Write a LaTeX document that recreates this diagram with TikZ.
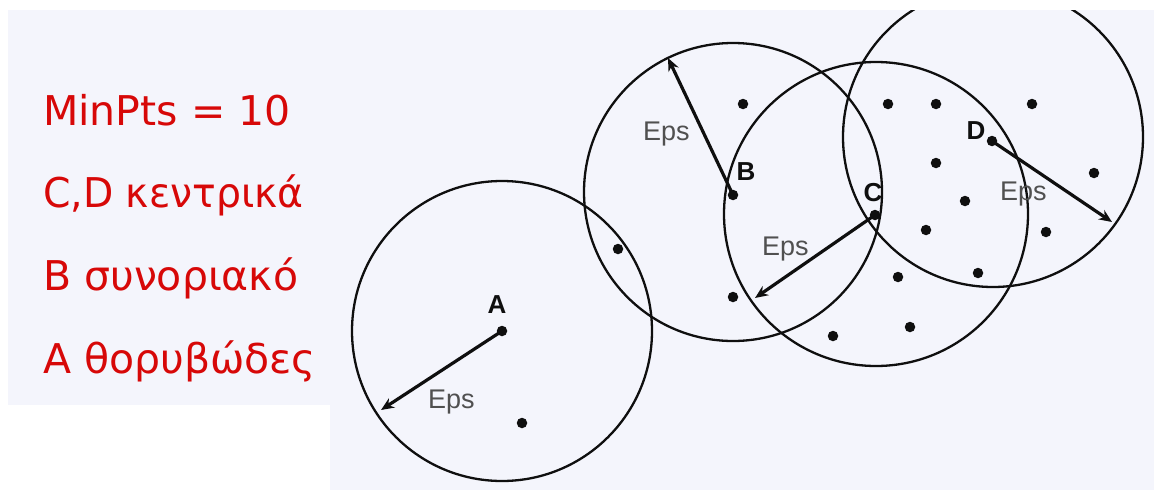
\documentclass[tikz,border=0pt]{standalone}
\usepackage{fontspec}
\setmainfont{Liberation Sans}
\newfontfamily\notefont{DejaVu Sans}
\usetikzlibrary{arrows.meta}
\definecolor{bgtint}{RGB}{244,245,252}
\definecolor{notered}{RGB}{215,8,8}
\definecolor{epsgray}{RGB}{80,80,80}
\definecolor{ink}{RGB}{15,15,15}
\tikzset{
  pt/.style={circle,fill=ink,inner sep=0pt,minimum size=10.5pt},
  ring/.style={draw=ink,line width=2.3pt},
  radius arrow/.style={draw=ink,line width=3.2pt,-{Stealth[length=13pt,width=11pt]}},
  ptlabel/.style={font=\fontsize{26}{26}\selectfont\bfseries,text=ink,inner sep=0pt},
  epslabel/.style={font=\fontsize{27}{27}\selectfont,text=epsgray,inner sep=0pt,anchor=base west},
  note/.style={font=\notefont\fontsize{41}{41}\selectfont,text=notered,inner sep=0pt,anchor=base west}
}
\begin{document}
\begin{tikzpicture}[x=1pt,y=-1pt]
\useasboundingbox (0,0) rectangle (1154,490);
% page background, tinted panel and the white strip at the lower left
\fill[white] (0,0) rectangle (1154,490);
\fill[bgtint] (8,10) rectangle (1154,490);
\fill[white] (0,405) rectangle (330,490);

% Eps-neighbourhoods
\begin{scope}
  \clip (8,10) rectangle (1154,490);
  \draw[ring] (502,331) circle[radius=150];
  \draw[ring] (733,192) circle[radius=149];
  \draw[ring] (876,214) circle[radius=152];
  \draw[ring] (993,137) circle[radius=150];
\end{scope}

% the four labelled points
\node[pt] (A) at (502,331) {};
\node[pt] (B) at (733,195) {};
\node[pt] (C) at (875,215) {};
\node[pt] (D) at (992,141) {};

% ends of the radius arrows
\coordinate (eA) at (381,410);
\coordinate (eB) at (668,58);
\coordinate (eC) at (755,298);
\coordinate (eD) at (1112,222);

\draw[radius arrow] (A.center) -- (eA);
\draw[radius arrow] (B.center) -- (eB);
\draw[radius arrow] (C.center) -- (eC);
\draw[radius arrow] (D.center) -- (eD);

\node[ptlabel] (lA) at (497,305) {A};
\node[ptlabel] (lB) at (746,172) {B};
\node[ptlabel] (lC) at (873,193) {C};
\node[ptlabel] (lD) at (976,131) {D};

\node[epslabel] (epsA) at (428,408) {Eps};
\node[epslabel] (epsB) at (643,140) {Eps};
\node[epslabel] (epsC) at (762,255) {Eps};
\node[epslabel] (epsD) at (1000,200) {Eps};

% other points
\node[pt] (p1) at (522,423) {};
\node[pt] (p2) at (743,104) {};
\node[pt] (p3) at (618,249) {};
\node[pt] (p4) at (733,297) {};
\node[pt] (p5) at (888,104) {};
\node[pt] (p6) at (936,104) {};
\node[pt] (p7) at (1032,104) {};
\node[pt] (p8) at (936,163) {};
\node[pt] (p9) at (965,201) {};
\node[pt] (p10) at (1094,173) {};
\node[pt] (p11) at (926,230) {};
\node[pt] (p12) at (1046,232) {};
\node[pt] (p13) at (898,277) {};
\node[pt] (p14) at (978,273) {};
\node[pt] (p15) at (910,327) {};
\node[pt] (p16) at (833,336) {};

% legend
\node[note] (n1) at (43,125) {MinPts = 10};
\node[note,xscale=0.96,transform shape] (n2) at (43,207) {C,D κεντρικά};
\node[note] (n3) at (43,290) {B συνοριακό};
\node[note] (n4) at (43,373) {A θορυβώδες};
\end{tikzpicture}
\end{document}
